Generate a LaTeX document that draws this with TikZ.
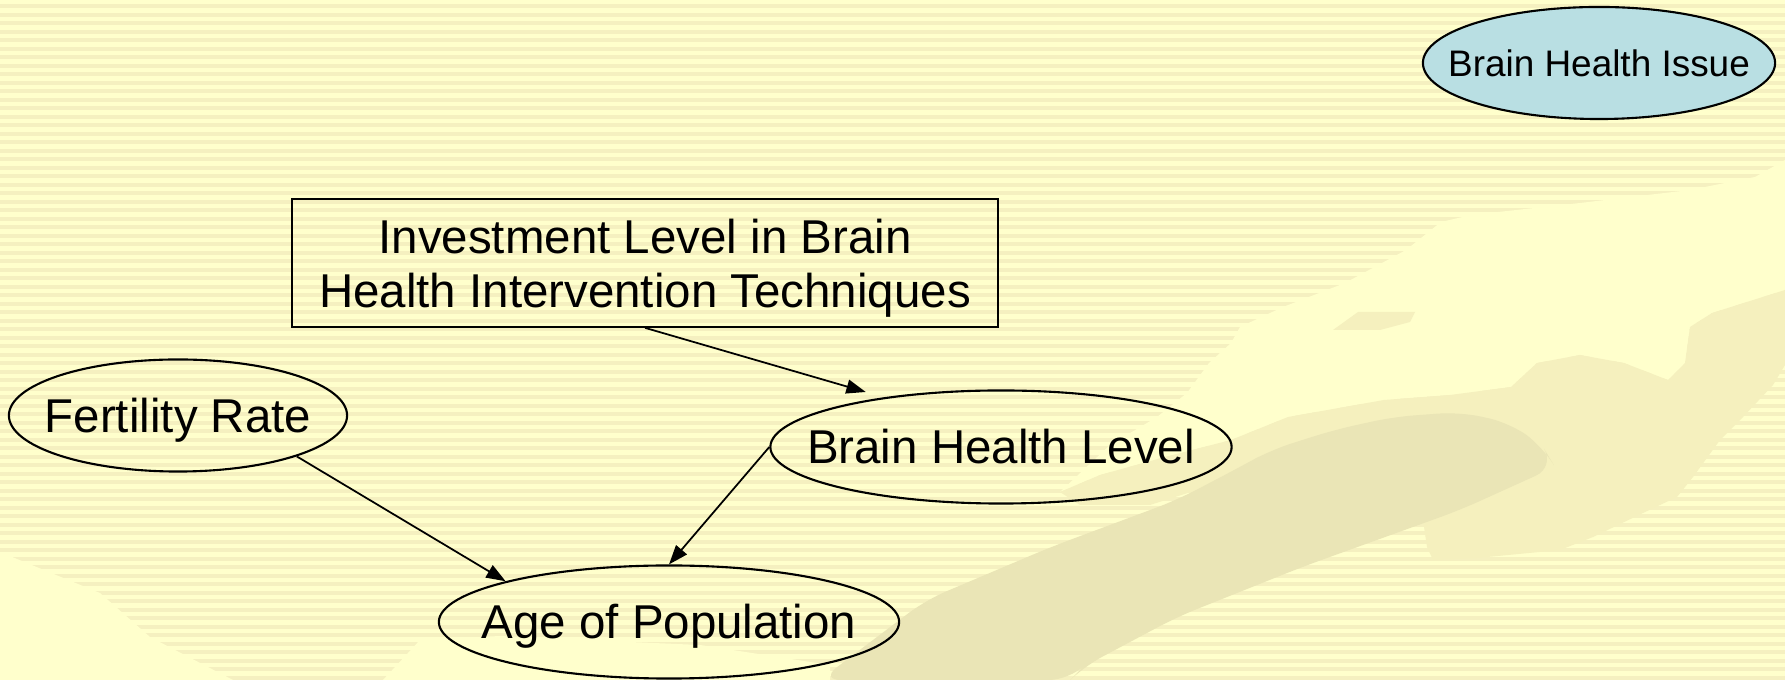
\documentclass[tikz,border=0pt]{standalone}
\usepackage{fontspec}
\setmainfont{Liberation Sans}
\usetikzlibrary{arrows.meta,shapes.geometric}

\definecolor{paper}{RGB}{255,255,204}
\definecolor{stripe}{RGB}{245,240,192}
\definecolor{tanpatch}{RGB}{245,240,190}
\definecolor{armtone}{RGB}{234,229,182}
\definecolor{issueblue}{RGB}{185,223,227}

\tikzset{
  ell/.style={ellipse, draw=black, line width=0.6pt, inner sep=0pt,
              text height=9.67pt, text depth=0pt,
              font=\fontsize{13.5}{16}\selectfont},
  stepbox/.style={rectangle, draw=black, line width=0.6pt, inner sep=0pt,
                  align=center, text depth=0pt,
                  font=\fontsize{13.5}{15.3}\selectfont},
  issue/.style={ellipse, draw=black, line width=0.6pt, inner sep=0pt,
                text height=7.52pt, text depth=0pt,
                fill=issueblue, font=\fontsize{10.5}{12}\selectfont},
  arr/.style={-{Triangle[length=5.5pt,width=4pt]}, line width=0.5pt},
}

\begin{document}
\begin{tikzpicture}[x=0.01cm,y=-0.01cm]
\useasboundingbox (0,0) rectangle (1785,680);

% ---- striped slide background ----
\begin{scope}
\clip (0,0) rectangle (1785,680);
\fill[paper] (0,0) rectangle (1785,680);
\foreach \i in {0,...,80}
  \fill[stripe] (0,{\i*8.5+4.5}) rectangle (1785,{\i*8.5+8.5});

% faded hand artwork
\fill[paper] (0,552) -- (100,593) -- (150,637) -- (233,680) -- (0,680) -- cycle;
\fill[paper] (383,680) -- (420,640) -- (500,636) -- (630,642) -- (700,645)
  -- (830,665) -- (830,680) -- cycle;
\fill[paper] (1060,492) -- (1110,445) -- (1157,417) -- (1187,393) -- (1209,363)
  -- (1231,343) -- (1240,327) -- (1283,307) -- (1345,283) -- (1406,250)
  -- (1441,222) -- (1471,215) -- (1580,203) -- (1690,190) -- (1755,177)
  -- (1785,160) -- (1785,290) -- (1712,313) -- (1690,327) -- (1685,363)
  -- (1668,380) -- (1624,363) -- (1580,355) -- (1537,363) -- (1511,387)
  -- (1450,395) -- (1384,400) -- (1288,417) -- (1231,440) -- (1165,457)
  -- (1100,475) -- cycle;
\fill[tanpatch] (1785,290) -- (1712,313) -- (1690,327) -- (1685,363)
  -- (1668,380) -- (1624,363) -- (1580,355) -- (1537,363) -- (1511,387)
  -- (1450,395) -- (1384,400) -- (1288,417) -- (1231,440) -- (1165,457)
  -- (1100,475) -- (1060,492) -- (1080,505) -- (1150,505) -- (1260,470)
  -- (1420,500) -- (1427,547) -- (1433,560) -- (1477,558) -- (1560,550)
  -- (1593,537) -- (1643,513) -- (1677,497) -- (1693,477) -- (1720,440)
  -- (1743,417) -- (1773,385) -- (1785,365) -- cycle;
\fill[tanpatch] (1333,330) -- (1358,312) -- (1415,312) -- (1410,322)
  -- (1380,330) -- cycle;
\fill[armtone, rounded corners=6pt] (820,680) -- (926,600) -- (1051,547)
  -- (1177,500) -- (1240,467) -- (1271,450) -- (1334,430) -- (1393,417)
  -- (1460,412) -- (1510,423) -- (1543,447) -- (1555,467) -- (1460,510)
  -- (1302,567) -- (1177,617) -- (1083,667) -- (1070,680) -- cycle;
\end{scope}

% ---- diagram ----
\node[issue, minimum width=3.52cm, minimum height=1.12cm] (issue) at (1599,63)
  {\makebox[0pt]{Brain Health Issue}};

\node[stepbox, minimum width=7.05cm, minimum height=1.275cm] (inv) at (645,263)
  {Investment Level in Brain\\Health Intervention Techniques};

\node[ell, minimum width=3.38cm, minimum height=1.12cm] (fert) at (178,415.5)
  {\makebox[0pt]{Fertility Rate}};

\node[ell, minimum width=4.61cm, minimum height=1.13cm] (bhl) at (1001,447)
  {\makebox[0pt]{Brain Health Level}};

\node[ell, minimum width=4.6cm, minimum height=1.13cm] (age) at (669,622)
  {\makebox[0pt]{Age of Population}};

\draw[arr, shorten >=5.4pt] (inv.south) -- (bhl.157);
\draw[arr] (bhl.west) -- (age.north);
\draw[arr] (fert.-19) -- (age.166);
\end{tikzpicture}
\end{document}
